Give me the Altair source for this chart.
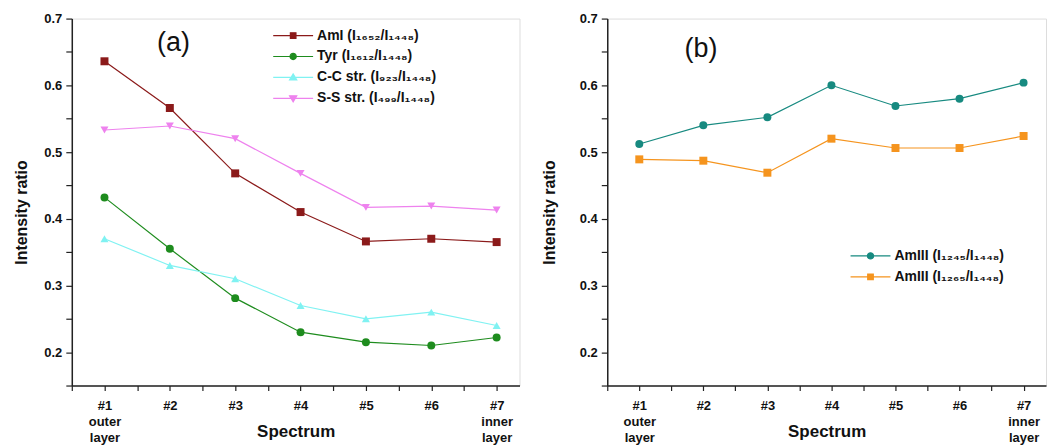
import altair as alt
import pandas as pd

spectra = [1, 2, 3, 4, 5, 6, 7]

names_a = ["AmI (I₁₆₅₂/I₁₄₄₈)", "Tyr (I₁₆₁₂/I₁₄₄₈)", "C-C str. (I₉₂₃/I₁₄₄₈)", "S-S str. (I₄₉₉/I₁₄₄₈)"]
ami = [0.636, 0.566, 0.468, 0.410, 0.366, 0.370, 0.365]
tyr = [0.432, 0.355, 0.281, 0.230, 0.215, 0.210, 0.222]
cc_str = [0.370, 0.330, 0.310, 0.270, 0.250, 0.260, 0.240]
ss_str = [0.533, 0.539, 0.520, 0.468, 0.417, 0.419, 0.413]

names_b = ["AmIII (I₁₂₄₅/I₁₄₄₈)", "AmIII (I₁₂₆₅/I₁₄₄₈)"]
amiii_1245 = [0.512, 0.540, 0.552, 0.600, 0.569, 0.580, 0.604]
amiii_1265 = [0.489, 0.487, 0.469, 0.520, 0.506, 0.506, 0.524]

colors_a = ["#8B1A1A", "#1E8C1E", "#80F2F2", "#EE82EE"]
colors_b = ["#178A80", "#F5941E"]
shapes_a = ["square", "circle", "triangle-up", "triangle-down"]
shapes_b = ["circle", "square"]

y_ticks = [0.15, 0.2, 0.25, 0.3, 0.35, 0.4, 0.45, 0.5, 0.55, 0.6, 0.65, 0.7]
x_ticks = [0.5, 1, 1.5, 2, 2.5, 3, 3.5, 4, 4.5, 5, 5.5, 6, 6.5, 7]

LINE = "M-2,0H2"
LEG_PATHS = {
    "square": LINE + "M-0.28,-0.28H0.28V0.28H-0.28Z",
    "circle": LINE + "M0.31,0A0.31,0.31 0 1,1 -0.31,0A0.31,0.31 0 1,1 0.31,0Z",
    "triangle-up": LINE + "M-0.36,0.26L0.36,0.26L0,-0.34Z",
    "triangle-down": LINE + "M-0.36,-0.26L0.36,-0.26L0,0.34Z",
}

FONT = "Liberation Sans"


def long_df(names, series):
    rows = []
    for n, vals in zip(names, series):
        for s, v in zip(spectra, vals):
            rows.append({"series": n, "spectrum": s, "ratio": v})
    return pd.DataFrame(rows)


def panel(df, names, colors, shapes, width, height, legend_x, legend_y, label, lab_x, lab_y, title_x):
    x = alt.X(
        "spectrum:Q",
        scale=alt.Scale(domain=[0.5, 7.35], nice=False, zero=False),
        axis=alt.Axis(
            values=x_ticks,
            labelExpr="datum.value == 1 ? ['#1','outer','layer'] : datum.value == 7 ? ['#7','inner','layer'] : (datum.value % 1 == 0 ? '#' + datum.value : '')",
            tickSize=5, tickWidth=1.2, tickColor="#222", domainColor="#222", domainWidth=1.5,
            labelFont=FONT, labelFontSize=13, labelFontWeight="bold", labelColor="#111",
            labelLineHeight=16, labelPadding=9, labelFlush=False, labelOverlap=False,
            grid=False, title="Spectrum", titleFont=FONT, titleFontSize=17,
            titleFontWeight="bold", titleColor="#111", titleY=46, titleBaseline="middle",
        ),
    )
    y = alt.Y(
        "ratio:Q",
        scale=alt.Scale(domain=[0.15, 0.7], nice=False, zero=False),
        axis=alt.Axis(
            values=y_ticks,
            labelExpr="abs(datum.value*10 - round(datum.value*10)) < 0.001 ? format(datum.value, '.1f') : ''",
            tickSize=6, tickWidth=1.2, tickColor="#222", domainColor="#222", domainWidth=1.5,
            labelFont=FONT, labelFontSize=13, labelFontWeight="bold", labelColor="#111",
            labelPadding=4, labelOverlap=False, labelFlush=False,
            grid=False, title="Intensity ratio", titleFont=FONT, titleFontSize=16,
            titleFontWeight="bold", titleColor="#111", titleX=title_x, titleY=height / 2 + 10,
            titleAngle=-90, titleBaseline="middle", titleAlign="center",
        ),
    )
    cscale = alt.Scale(domain=names, range=colors)
    lines = alt.Chart(df).mark_line(strokeWidth=1.2).encode(
        x=x, y=y, color=alt.Color("series:N", scale=cscale, legend=None)
    )
    points = alt.Chart(df).mark_point(filled=True, size=64, opacity=1).encode(
        x=x, y=y,
        color=alt.Color("series:N", scale=cscale, legend=None),
        shape=alt.Shape("series:N", scale=alt.Scale(domain=names, range=shapes), legend=None),
    )
    leg_common = dict(
        orient="none", legendX=legend_x, legendY=legend_y, title=None,
        labelFont=FONT, labelFontSize=14, labelFontWeight="bold", labelColor="#111",
        symbolSize=400, symbolStrokeWidth=1.2, labelOffset=13, rowPadding=3,
        padding=0, labelLimit=400, symbolFillColor="white", symbolStrokeColor="white",
    )
    leg = alt.Chart(df).transform_filter("false").mark_point(filled=True, opacity=1).encode(
        x=x, y=y,
        fill=alt.Fill("series:N", scale=alt.Scale(domain=names, range=colors), legend=alt.Legend(**leg_common)),
        stroke=alt.Stroke("series:N", scale=alt.Scale(domain=names, range=colors), legend=alt.Legend(**leg_common)),
        shape=alt.Shape("series:N", scale=alt.Scale(domain=names, range=[LEG_PATHS[s] for s in shapes]),
                        legend=alt.Legend(**leg_common)),
    )
    lab = alt.Chart(pd.DataFrame({"t": [label]})).mark_text(
        font=FONT, fontSize=27, color="#111", align="center", baseline="middle"
    ).encode(text="t:N", x=alt.value(lab_x), y=alt.value(lab_y))
    return alt.layer(lines, points, leg, lab).resolve_scale(
        shape="independent", fill="independent", stroke="independent"
    ).resolve_legend(
        shape="independent", fill="independent", stroke="independent"
    ).properties(width=width, height=height)


df_a = long_df(names_a, [ami, tyr, cc_str, ss_str])
df_b = long_df(names_b, [amiii_1245, amiii_1265])

pa = panel(df_a, names_a, colors_a, shapes_a, 449, 368, 211, 6, "(a)", 102, 25, -50)
pb = panel(df_b, names_b, colors_b, shapes_b, 440, 368, 253, 227, "(b)", 94, 31, -58)

chart = alt.hconcat(pa, pb, spacing=20).resolve_scale(
    color="independent", fill="independent", stroke="independent", shape="independent"
).resolve_legend(
    color="independent", fill="independent", stroke="independent", shape="independent"
).properties(
    padding={"left": 13, "top": 11, "right": 0, "bottom": 0}
).configure_view(stroke=None).configure(background="white")

chart.save("out.html", embed_options={"renderer": "svg", "actions": False})
